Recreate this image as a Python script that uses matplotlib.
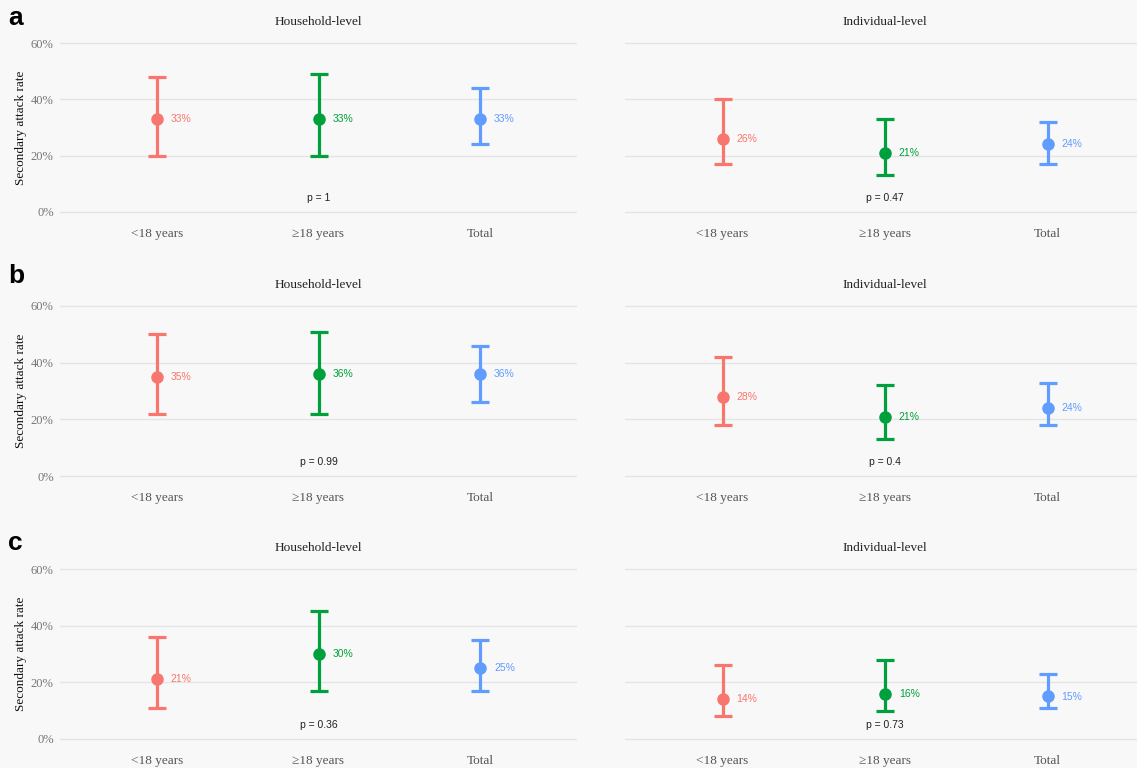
import matplotlib
matplotlib.use("Agg")
import matplotlib.pyplot as plt

categories = ["<18 years", "\u226518 years", "Total"]
panel_letters = ["a", "b", "c"]
levels = ["Household-level", "Individual-level"]

# estimates, lower CI, upper CI (%), per row (a,b,c) and level (household, individual)
est = {
    ("a", 0): [33, 33, 33], ("a", 1): [26, 21, 24],
    ("b", 0): [35, 36, 36], ("b", 1): [28, 21, 24],
    ("c", 0): [21, 30, 25], ("c", 1): [14, 16, 15],
}
lower = {
    ("a", 0): [20, 20, 24], ("a", 1): [17, 13, 17],
    ("b", 0): [22, 22, 26], ("b", 1): [18, 13, 18],
    ("c", 0): [11, 17, 17], ("c", 1): [8, 10, 11],
}
upper = {
    ("a", 0): [48, 49, 44], ("a", 1): [40, 33, 32],
    ("b", 0): [50, 51, 46], ("b", 1): [42, 32, 33],
    ("c", 0): [36, 45, 35], ("c", 1): [26, 28, 23],
}
pvalues = {
    ("a", 0): "p = 1", ("a", 1): "p = 0.47",
    ("b", 0): "p = 0.99", ("b", 1): "p = 0.4",
    ("c", 0): "p = 0.36", ("c", 1): "p = 0.73",
}
yticks = [0, 20, 40, 60]
ytick_labels = ["0%", "20%", "40%", "60%"]

colors = ["#F8766D", "#00A03C", "#619CFF"]
BG = "#f8f8f8"
W, H = 1137, 768

fig = plt.figure(figsize=(W / 100, H / 100), dpi=100, facecolor=BG)

# row pixel geometry: (y of 60%, y of 0%)
rows_px = [(43, 212), (306, 476), (569, 739)]
cols_px = [(60, 577), (625, 1145)]
letter_y = [18, 276, 543]

serif = "Liberation Serif"
sans = "Liberation Sans"

for r, letter in enumerate(panel_letters):
    y60, y0 = rows_px[r]
    ppu = (y0 - y60) / 60.0
    ylo, yhi = -2.0, 62.0
    top_px = y60 - (yhi - 60) * ppu
    bot_px = y0 + (0 - ylo) * ppu
    for c in range(2):
        x0, x1 = cols_px[c]
        ax = fig.add_axes([x0 / W, 1 - bot_px / H, (x1 - x0) / W, (bot_px - top_px) / H])
        ax.set_facecolor(BG)
        ax.set_xlim(0.4, 3.6)
        ax.set_ylim(ylo, yhi)
        for s in ax.spines.values():
            s.set_visible(False)
        ax.set_yticks(yticks)
        ax.grid(axis="y", color="#e4e4e4", lw=1.0)
        ax.set_axisbelow(True)
        ax.set_xticks([1, 2, 3])
        ax.set_xticklabels(categories, fontfamily=serif, fontsize=9.5, color="#555555")
        ax.tick_params(axis="x", length=0, pad=7.5)
        ax.tick_params(axis="y", length=0, pad=4.5)
        if c == 0:
            ax.set_yticklabels(ytick_labels, fontfamily=serif, fontsize=9, color="#777777")
            ax.set_ylabel("Secondary attack rate", fontfamily=serif, fontsize=9.5,
                          color="#111111", labelpad=3)
        else:
            ax.set_yticklabels([])
        key = (letter, c)
        for i in range(3):
            e, lo, hi = est[key][i], lower[key][i], upper[key][i]
            ax.errorbar([i + 1], [e], yerr=[[e - lo], [hi - e]], fmt="o",
                        color=colors[i], ms=8, elinewidth=2.3, capsize=6.5,
                        capthick=2.3, zorder=3)
            ax.annotate(f"{e}%", (i + 1, e), xytext=(10, 0), textcoords="offset points",
                        ha="left", va="center", fontfamily=sans, fontsize=7.5,
                        color=colors[i], zorder=4)
        ax.text(2, 5, pvalues[key], ha="center", va="center", fontfamily=sans,
                fontsize=7.5, color="#222222")
        # facet title
        title_y = (rows_px[r][0] - 21)
        fig.text(((x0 + x1) / 2) / W, 1 - title_y / H, levels[c], ha="center",
                 va="center", fontfamily=serif, fontsize=9.5, color="#222222")
    fig.text(8 / W, 1 - letter_y[r] / H, letter, ha="left", va="center",
             fontfamily=sans, fontweight="bold", fontsize=19, color="black")

fig.savefig("out.png", dpi=100, facecolor=BG)
